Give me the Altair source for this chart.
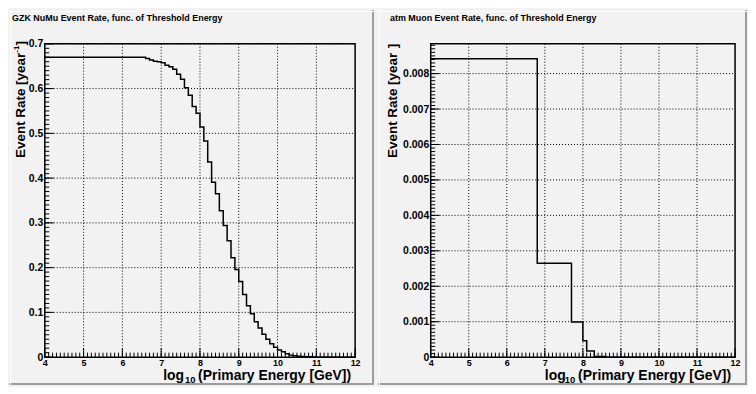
import altair as alt
import pandas as pd

FONT = "Liberation Sans"
BG = "#f2f2f2"

# ---- GZK NuMu: lower bin edge where the rate changes, rate [year^-1]
gzk_edges = [4.0, 6.6, 6.7, 6.8, 6.9, 7.0, 7.1, 7.2, 7.3, 7.4, 7.5, 7.6, 7.7, 7.8, 7.9,
             8.0, 8.1, 8.2, 8.3, 8.4, 8.5, 8.6, 8.7, 8.8, 8.9, 9.0, 9.1, 9.2, 9.3, 9.4,
             9.5, 9.6, 9.7, 9.8, 9.9, 10.0, 10.1, 10.2, 10.3, 10.4, 10.5, 10.6, 10.7,
             10.8, 10.9, 11.0, 12.0]
gzk_rate = [0.670, 0.667, 0.664, 0.661, 0.660, 0.658, 0.652, 0.649, 0.643, 0.632, 0.621, 0.602, 0.585, 0.560, 0.545,
            0.514, 0.483, 0.436, 0.391, 0.365, 0.327, 0.294, 0.260, 0.222, 0.196, 0.169, 0.140, 0.115, 0.097, 0.079,
            0.065, 0.051, 0.040, 0.030, 0.022, 0.016, 0.012, 0.0075, 0.0045, 0.003, 0.002, 0.0015, 0.001,
            0.0007, 0.0004, 0.0, 0.0]

# ---- atm Muon
atm_edges = [4.0, 6.8, 7.7, 8.0, 8.1, 8.3, 8.6, 12.0]
atm_rate = [0.00842, 0.00265, 0.00099, 0.00046, 0.00017, 0.00002, 0.0, 0.0]

x_labels = [4, 5, 6, 7, 8, 9, 10, 11, 12]
gzk_ylabels = [0, 0.1, 0.2, 0.3, 0.4, 0.5, 0.6, 0.7]
atm_ylabels = [0, 0.001, 0.002, 0.003, 0.004, 0.005, 0.006, 0.007, 0.008]

x_minor = [4 + i / 10 for i in range(81)]
gzk_yminor = [i / 100 for i in range(71)]
atm_yminor = [i / 10000 for i in range(89)]

dummy = pd.DataFrame({"d": [0]})


def txt(s, x, y, size, angle=0, align="left"):
    return alt.Chart(dummy).mark_text(
        text=s, font=FONT, fontWeight="bold", fontSize=size, angle=angle,
        align=align, baseline="alphabetic", color="black"
    ).encode(x=alt.value(x), y=alt.value(y))


def panel(edges, rate, ymax, ylabels, yminor, W, H, padx1, padx2, title, title_x,
          ytitle_x, sup, xt):
    xs = alt.Scale(domain=[4, 12], nice=False, zero=False)
    ys = alt.Scale(domain=[0, ymax], nice=False, zero=False)
    xa = alt.Axis(values=x_labels, ticks=False, domain=False, grid=False, title=None,
                  labelFont=FONT, labelFontWeight="bold", labelFontSize=9, labelColor="black",
                  labelPadding=1, labelFlush=False, labelOverlap=False, format="d", zindex=2)
    ya = alt.Axis(values=ylabels, ticks=False, domain=False, grid=False, title=None,
                  labelFont=FONT, labelFontWeight="bold", labelFontSize=10.5, labelColor="black",
                  labelPadding=2, labelFlush=False, labelOverlap=False, format="~g", zindex=2)
    X = lambda: alt.X("x:Q", scale=xs, axis=xa)
    Y = lambda: alt.Y("y:Q", scale=ys, axis=ya)
    PT, PB = -34, 343
    layers = []
    # pad background and bevel border
    layers.append(alt.Chart(dummy).mark_rect(color=BG).encode(
        x=alt.value(padx1), x2=alt.value(padx2), y=alt.value(PT), y2=alt.value(PB)))
    layers.append(alt.Chart(dummy).mark_rule(color="#9c9c9c", strokeWidth=2).encode(
        x=alt.value(padx2 - 1), y=alt.value(PT), y2=alt.value(PB)))
    layers.append(alt.Chart(dummy).mark_rule(color="#9c9c9c", strokeWidth=2).encode(
        x=alt.value(padx1), x2=alt.value(padx2), y=alt.value(PB - 1)))
    layers.append(alt.Chart(dummy).mark_rule(color="white", strokeWidth=1).encode(
        x=alt.value(padx1), x2=alt.value(padx2), y=alt.value(PT + 1.5)))
    layers.append(alt.Chart(dummy).mark_rule(color="white", strokeWidth=1).encode(
        x=alt.value(padx1 + 1.5), y=alt.value(PT), y2=alt.value(PB)))
    # grid
    gx = pd.DataFrame({"x": x_labels[1:-1]})
    gy = pd.DataFrame({"y": ylabels[1:]})
    layers.append(alt.Chart(gx).mark_rule(color="black", strokeWidth=1, strokeDash=[1, 2]).encode(
        x=X(), y=alt.value(0), y2=alt.value(H)))
    layers.append(alt.Chart(gy).mark_rule(color="black", strokeWidth=1, strokeDash=[1, 2]).encode(
        y=Y(), x=alt.value(0), x2=alt.value(W)))
    # ticks (inward)
    layers.append(alt.Chart(pd.DataFrame({"x": x_minor})).mark_rule(color="black", strokeWidth=1).encode(
        x=X(), y=alt.value(H), y2=alt.value(H - 4.5)))
    layers.append(alt.Chart(pd.DataFrame({"x": x_labels})).mark_rule(color="black", strokeWidth=1).encode(
        x=X(), y=alt.value(H), y2=alt.value(H - 9)))
    layers.append(alt.Chart(pd.DataFrame({"y": yminor})).mark_rule(color="black", strokeWidth=1).encode(
        y=Y(), x=alt.value(0), x2=alt.value(4.5)))
    layers.append(alt.Chart(pd.DataFrame({"y": ylabels})).mark_rule(color="black", strokeWidth=1).encode(
        y=Y(), x=alt.value(0), x2=alt.value(9)))
    # histogram
    hist = pd.DataFrame({"x": edges, "y": rate})
    layers.append(alt.Chart(hist).mark_line(interpolate="step-after", color="black", strokeWidth=1.5).encode(
        x=X(), y=Y()))
    # frame
    layers.append(alt.Chart(dummy).mark_rect(fillOpacity=0, stroke="black", strokeWidth=1.5).encode(
        x=alt.value(0), x2=alt.value(W), y=alt.value(0), y2=alt.value(H)))
    # texts
    layers.append(txt(title, title_x, -23, 9))
    layers.append(txt("Event Rate [year", ytitle_x, 114.7, 13.5, angle=270))
    if sup:
        layers.append(txt("-1", ytitle_x - 6, 8.9, 8, angle=270))
        layers.append(txt("]", ytitle_x, 1.8, 13.5, angle=270))
    else:
        layers.append(txt("]", ytitle_x, 4.5, 13.5, angle=270))
    layers.append(txt("log", xt[0], 337.5, 14))
    layers.append(txt("10", xt[1], 341, 9.5))
    layers.append(txt("(Primary Energy [GeV])", xt[2], 337.5, 14, align="right"))
    return alt.layer(*layers).properties(width=W, height=H)


left = panel(gzk_edges, gzk_rate, 0.7, gzk_ylabels, gzk_yminor, 312, 315, -36, 331,
             "GZK NuMu Event Rate, func. of Threshold Energy", -33, -20, True, (119, 141, 308))
right = panel(atm_edges, atm_rate, 0.00884, atm_ylabels, atm_yminor, 306, 315, -53, 318,
              "atm Muon Event Rate, func. of Threshold Energy", -41, -34, False, (114.7, 134.7, 302))

chart = alt.hconcat(left, right, spacing=2, padding=0, background=BG).configure_view(stroke=None)

chart.save("out.html", embed_options={"renderer": "svg", "actions": False})
